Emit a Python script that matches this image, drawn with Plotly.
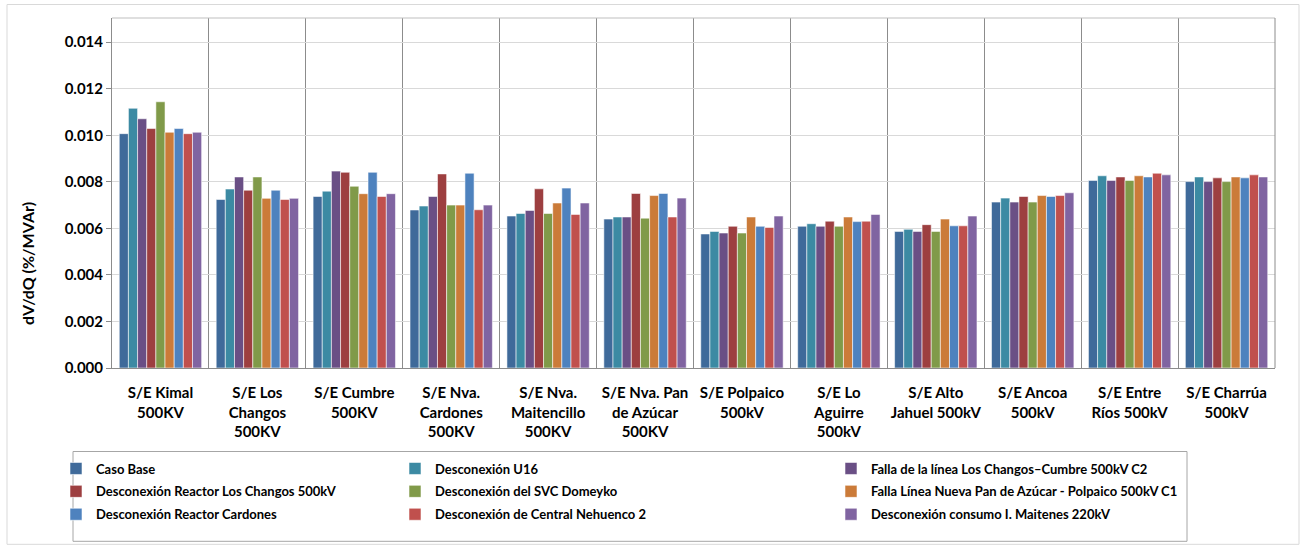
import plotly.graph_objects as go

categories = [
    "S/E Kimal<br>500KV",
    "S/E Los<br>Changos<br>500KV",
    "S/E Cumbre<br>500KV",
    "S/E Nva.<br>Cardones<br>500KV",
    "S/E Nva.<br>Maitencillo<br>500KV",
    "S/E Nva. Pan<br>de Azúcar<br>500KV",
    "S/E Polpaico<br>500kV",
    "S/E Lo<br>Aguirre<br>500kV",
    "S/E Alto<br>Jahuel 500kV",
    "S/E Ancoa<br>500kV",
    "S/E Entre<br>Ríos 500kV",
    "S/E Charrúa<br>500kV",
]

series_names = [
    "Caso Base",
    "Desconexión U16",
    "Falla de la línea Los Changos–Cumbre 500kV C2",
    "Desconexión Reactor Los Changos 500kV",
    "Desconexión del SVC Domeyko",
    "Falla Línea Nueva Pan de Azúcar - Polpaico 500kV C1",
    "Desconexión Reactor Cardones",
    "Desconexión de Central Nehuenco 2",
    "Desconexión consumo I. Maitenes 220kV",
]

caso_base = [0.01007, 0.00724, 0.00737, 0.00679, 0.00653, 0.00640, 0.00576, 0.00609, 0.00587, 0.00713, 0.00806, 0.00801]
desc_u16 = [0.01116, 0.00769, 0.00760, 0.00696, 0.00664, 0.00649, 0.00587, 0.00620, 0.00596, 0.00730, 0.00826, 0.00821]
falla_changos_cumbre = [0.01071, 0.00821, 0.00846, 0.00737, 0.00677, 0.00649, 0.00580, 0.00609, 0.00587, 0.00713, 0.00806, 0.00801]
reactor_changos = [0.01029, 0.00764, 0.00841, 0.00834, 0.00770, 0.00750, 0.00609, 0.00631, 0.00616, 0.00737, 0.00821, 0.00817]
svc_domeyko = [0.01144, 0.00821, 0.00781, 0.00700, 0.00664, 0.00644, 0.00580, 0.00609, 0.00587, 0.00713, 0.00806, 0.00801]
falla_pan_polpaico = [0.01013, 0.00729, 0.00749, 0.00700, 0.00709, 0.00741, 0.00649, 0.00649, 0.00640, 0.00741, 0.00826, 0.00821]
reactor_cardones = [0.01029, 0.00764, 0.00841, 0.00837, 0.00773, 0.00750, 0.00609, 0.00629, 0.00611, 0.00737, 0.00821, 0.00817]
nehuenco = [0.01007, 0.00724, 0.00737, 0.00680, 0.00660, 0.00649, 0.00604, 0.00631, 0.00611, 0.00741, 0.00837, 0.00830]
maitenes = [0.01013, 0.00729, 0.00749, 0.00700, 0.00709, 0.00730, 0.00653, 0.00660, 0.00653, 0.00753, 0.00830, 0.00821]

series_values = [caso_base, desc_u16, falla_changos_cumbre, reactor_changos, svc_domeyko,
                 falla_pan_polpaico, reactor_cardones, nehuenco, maitenes]

colors = ["#3F6A9A", "#3C8AA3", "#6A4F85", "#9D3F40", "#809A49",
          "#CB7B39", "#4E82BE", "#C0504D", "#8064A1"]

legend_ids = ["legend", "legend2", "legend3"]

FONT = "Lato"

fig = go.Figure()
for i, (name, vals, col) in enumerate(zip(series_names, series_values, colors)):
    fig.add_trace(go.Bar(
        x=categories, y=vals, name=name,
        marker=dict(color=col, line=dict(color="rgba(255,255,255,0.55)", width=1)),
        legend=legend_ids[i % 3],
        legendgroup="g%d" % i,
    ))

# plot area geometry (px): x 112..1275, y 17.5..368.3
PL, PR, PT, PB = 112, 1275, 17.5, 368.3
W, H = PR - PL, PB - PT

def px_x(x):
    return (x - PL) / W

def px_y(y):
    return (PB - y) / H

leg_common = dict(
    orientation="v", bgcolor="rgba(0,0,0,0)", borderwidth=0,
    font=dict(family=FONT, size=13, color="#000000", weight="bold"),
    tracegroupgap=3, yanchor="top", xanchor="left", itemwidth=30,
)

fig.update_layout(
    width=1302, height=546,
    margin=dict(l=PL, r=1302 - PR, t=PT, b=546 - PB, autoexpand=False),
    paper_bgcolor="white", plot_bgcolor="white",
    barmode="group", bargap=0.15, bargroupgap=0,
    font=dict(family=FONT, color="#000000"),
    showlegend=True,
    legend=dict(**leg_common, x=px_x(56), y=px_y(454)),
    legend2=dict(**leg_common, x=px_x(395), y=px_y(454)),
    legend3=dict(**leg_common, x=px_x(831), y=px_y(454)),
    xaxis=dict(
        type="category", tickson="boundaries", showgrid=True,
        gridcolor="#8C8C8C", gridwidth=1,
        showline=True, linecolor="#8C8C8C", linewidth=1, mirror=False,
        ticks="", ticklabelstandoff=11, tickangle=0, automargin=False,
        tickfont=dict(family=FONT, size=15, color="#000000", weight="bold"),
    ),
    yaxis=dict(
        range=[0, 0.01504], dtick=0.002, tick0=0, tickformat=".3f",
        showgrid=True, gridcolor="#D9D9D9", gridwidth=1,
        showline=True, linecolor="#8C8C8C", linewidth=1,
        ticks="outside", ticklen=5, tickcolor="#8C8C8C", automargin=False,
        tickfont=dict(family=FONT, size=15, color="#000000", weight="bold"),
        zeroline=False,
    ),
    shapes=[
        dict(type="line", xref="paper", yref="paper", x0=0, x1=1, y0=1, y1=1,
             line=dict(color="#BFBFBF", width=1)),
        dict(type="line", xref="paper", yref="paper", x0=1, x1=1, y0=0, y1=1,
             line=dict(color="#8C8C8C", width=1)),
        dict(type="rect", xref="paper", yref="paper",
             x0=px_x(73), x1=px_x(1187), y0=px_y(542), y1=px_y(452),
             line=dict(color="#A6A6A6", width=1)),
        dict(type="rect", xref="paper", yref="paper",
             x0=px_x(7), x1=px_x(1299), y0=px_y(545), y1=px_y(4),
             line=dict(color="#D9D9D9", width=1)),
    ],
    annotations=[
        dict(text="dV/dQ (%/MVAr)", textangle=-90, xref="paper", yref="paper",
             x=px_x(28), y=px_y(264), xanchor="center", yanchor="middle",
             showarrow=False,
             font=dict(family=FONT, size=16, color="#000000", weight="bold")),
    ],
)

fig.write_html("out.html",
               config={"displayModeBar": False},
               post_script="document.body.style.margin='0';document.body.style.overflow='hidden';")
